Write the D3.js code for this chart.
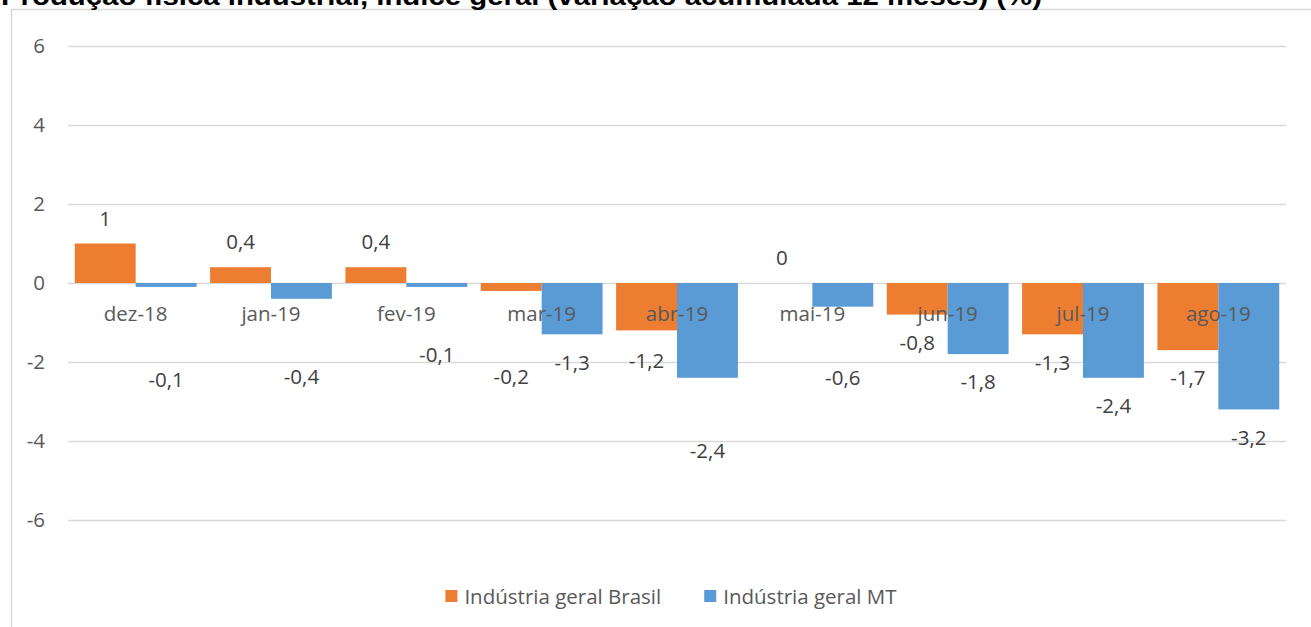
<!DOCTYPE html>
<html>
<head>
<meta charset="utf-8">
<script src="https://cdn.jsdelivr.net/npm/d3@7"></script>
<style>
	html, body { margin: 0; padding: 0; background: #fff; overflow: hidden; }
	svg { display: block; }
	.title { font-family: 'Liberation Sans', Arial, sans-serif; font-weight: bold; fill: #000; }
	.axis-text { font-family: 'Open Sans', Lato, sans-serif; fill: #595959; }
	.data-label { font-family: 'Open Sans', Lato, sans-serif; fill: #404040; }
</style>
</head>
<body>
<svg id="chart"></svg>
<script>
// data
const categories = ['dez-18', 'jan-19', 'fev-19', 'mar-19', 'abr-19', 'mai-19', 'jun-19', 'jul-19', 'ago-19'];
const brasil = [1, 0.4, 0.4, -0.2, -1.2, 0, -0.8, -1.3, -1.7];
const mt = [-0.1, -0.4, -0.1, -1.3, -2.4, -0.6, -1.8, -2.4, -3.2];
const seriesNames = ['Indústria geral Brasil', 'Indústria geral MT'];
const yTickValues = [-6, -4, -2, 0, 2, 4, 6];

// layout
const W = 1311, H = 627;
const colors = ['#ED7D31', '#5B9BD5'];
const plot = { left: 68, right: 1286, top: 46, bottom: 520 };
const fontSize = '20.5px';
// the labels in the original were dragged by hand, extra px below the bar end
const labelNudge = [
	[0, 0, 0, 58, 2, 0, 0, 0, 0],
	[65, 50, 40, 0, 45, 43, 0, 0, 0]
];

const svg = d3.select('#chart').attr('width', W).attr('height', H);

// chart frame
svg.append('rect')
	.attr('x', 11.5).attr('y', 9.5)
	.attr('width', W + 10).attr('height', H + 10)
	.attr('fill', 'none').attr('stroke', '#D9D9D9').attr('stroke-width', 1.5);

// title (sits half out of the picture, as in the original)
svg.append('text')
	.attr('class', 'title')
	.attr('x', 1).attr('y', 5)
	.attr('textLength', 1041)
	.attr('lengthAdjust', 'spacingAndGlyphs')
	.style('font-size', '25px')
	.text('Produção física industrial, índice geral (variação acumulada 12 meses) (%)');

const y = d3.scaleLinear().domain([-6, 6]).range([plot.bottom, plot.top]);
const x0 = d3.scaleBand().domain(categories)
	.range([plot.left, plot.right]).paddingInner(0.1).paddingOuter(0.05);
const x1 = d3.scaleBand().domain([0, 1]).range([0, x0.bandwidth()]);

// gridlines + y labels
const yAxis = svg.append('g')
	.attr('transform', `translate(${plot.left},0)`)
	.call(d3.axisLeft(y).tickValues(yTickValues).tickSize(-(plot.right - plot.left)).tickPadding(23).tickFormat(d => d));
yAxis.attr('font-family', null).attr('font-size', null);
yAxis.select('.domain').remove();
yAxis.selectAll('.tick line').attr('stroke', '#D9D9D9').attr('stroke-width', 1.5);
yAxis.selectAll('.tick text')
	.attr('class', 'axis-text')
	.style('font-size', fontSize);

const series = [brasil, mt];

// bars
series.forEach((vals, s) => {
	svg.append('g')
		.selectAll('rect')
		.data(vals)
		.enter().append('rect')
			.attr('x', (d, i) => x0(categories[i]) + x1(s))
			.attr('y', d => y(Math.max(0, d)))
			.attr('width', x1.bandwidth())
			.attr('height', d => Math.abs(y(d) - y(0)))
			.attr('fill', colors[s]);
});

// category labels
svg.append('g')
	.selectAll('text')
	.data(categories)
	.enter().append('text')
		.attr('class', 'axis-text')
		.attr('x', d => x0(d) + x0.bandwidth() / 2)
		.attr('y', y(0) + 31)
		.attr('dy', '0.35em')
		.attr('text-anchor', 'middle')
		.style('font-size', fontSize)
		.text(d => d);

// data labels
const fmt = v => String(v).replace('.', ',');
series.forEach((vals, s) => {
	svg.append('g')
		.selectAll('text')
		.data(vals)
		.enter().append('text')
			.attr('class', 'data-label')
			.attr('x', (d, i) => x0(categories[i]) + x1(s) + x1.bandwidth() / 2)
			.attr('y', (d, i) => d >= 0 ? y(d) - 25 : y(d) + 28 + labelNudge[s][i])
			.attr('dy', '0.35em')
			.attr('text-anchor', 'middle')
			.style('font-size', fontSize)
			.text(d => fmt(d));
});

// legend
const legend = svg.append('g');
let lx = 0;
seriesNames.forEach((name, s) => {
	const g = legend.append('g').attr('transform', `translate(${lx},0)`);
	g.append('rect').attr('x', 0).attr('y', -7).attr('width', 12).attr('height', 12).attr('fill', colors[s]);
	const t = g.append('text')
		.attr('class', 'axis-text')
		.attr('x', 19).attr('y', 0)
		.attr('dy', '0.35em')
		.style('font-size', fontSize)
		.text(name);
	lx += 19 + t.node().getComputedTextLength() + 43;
});
const legendWidth = lx - 43;
legend.attr('transform', `translate(${671 - legendWidth / 2},597)`);
</script>
</body>
</html>
